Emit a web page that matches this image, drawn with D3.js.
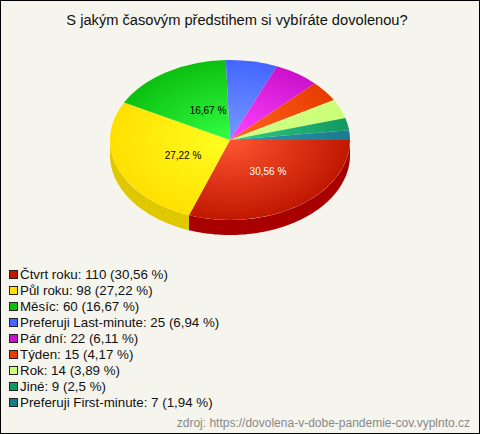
<!DOCTYPE html>
<html>
<head>
<meta charset="utf-8">
<script src="https://cdn.jsdelivr.net/npm/d3@7/dist/d3.min.js"></script>
<style>html,body{margin:0;padding:0;background:#f5f5ee}svg{display:block}text{font-family:"Liberation Sans",Arial,sans-serif}</style>
</head>
<body>
<script>
const chartTitle = "S jakým časovým předstihem si vybíráte dovolenou?";
const sourceNote = "zdroj: https://dovolena-v-dobe-pandemie-cov.vyplnto.cz";
const categories = ["Čtvrt roku","Půl roku","Měsíc","Preferuji Last-minute","Pár dní","Týden","Rok","Jiné","Preferuji First-minute"];
const counts = [110,98,60,25,22,15,14,9,7];
const percents = ["30,56","27,22","16,67","6,94","6,11","4,17","3,89","2,5","1,94"];
const rimColors = ["#c01800","#ffe000","#0cc010","#4466ff","#cc11cc","#e83c00","#ccff77","#109960","#1a7a90"];
const hubColors = ["#ff5533","#ffff22","#33ff44","#7799ff","#ff44ff","#ff6622","#ccff88","#33cc88","#3399aa"];
const sideColors = ["#a80000","#e0c800"];
const labelled = [0,1,2];
const labelColors = ["#ffffff","#000000","#000000"];
const labelNudge = [[7,2.5],[3.4,3],[6.6,1.5]];

const W=480,H=434,cx=230,cy=140,rx=120,ry=80,depth=15;
const svg=d3.select("body").append("svg").attr("width",W).attr("height",H);
svg.append("rect").attr("x",0.5).attr("y",0.5).attr("width",W-1).attr("height",H-1).attr("fill","#f5f5ee").attr("stroke","#000");

const defs=svg.append("defs");
categories.forEach((c,i)=>{
  const g=defs.append("radialGradient").attr("id","g"+i).attr("gradientUnits","userSpaceOnUse")
    .attr("cx",0).attr("cy",0).attr("r",rx);
  g.append("stop").attr("offset","0%").attr("stop-color",hubColors[i]);
  g.append("stop").attr("offset","100%").attr("stop-color",rimColors[i]);
});

const pieData=d3.pie().sort(null).startAngle(Math.PI/2).endAngle(Math.PI/2+2*Math.PI)(counts);
const arc=d3.arc().innerRadius(0).outerRadius(rx);

// side wall
const wall=svg.append("g").attr("transform",`translate(${cx},${cy})`);
const line=d3.line();
pieData.forEach((p,i)=>{
  const a0=p.startAngle-Math.PI/2, a1=Math.min(p.endAngle-Math.PI/2,Math.PI);
  if(a0>=Math.PI) return;
  const n=Math.max(2,Math.ceil((a1-a0)*40));
  const as=d3.range(n+1).map(k=>a0+(a1-a0)*k/n);
  const pts=as.map(a=>[rx*Math.cos(a),ry*Math.sin(a)]).concat(as.slice().reverse().map(a=>[rx*Math.cos(a),ry*Math.sin(a)+depth]));
  wall.append("path").attr("d",line(pts)+"Z").attr("fill",sideColors[i]);
});

// top face
const face=svg.append("g").attr("transform",`translate(${cx},${cy}) scale(1,${ry/rx})`);
face.selectAll("path").data(pieData).join("path").attr("d",arc).attr("fill",(d,i)=>`url(#g${i})`);

// slice labels
labelled.forEach((i,k)=>{
  const m=(pieData[i].startAngle+pieData[i].endAngle)/2-Math.PI/2;
  svg.append("text").attr("x",cx+0.45*rx*Math.cos(m)+labelNudge[k][0]).attr("y",cy+0.45*ry*Math.sin(m)+labelNudge[k][1]+3.5)
    .attr("text-anchor","middle").attr("font-size",10).attr("fill",labelColors[k]).text(percents[i]+" %");
});

svg.append("text").attr("x",237).attr("y",25).attr("text-anchor","middle").attr("font-size",14.67).attr("fill","#111").text(chartTitle);

const row=d3.scaleBand().domain(d3.range(categories.length)).range([266,410]);
categories.forEach((c,i)=>{
  const y=row(i);
  svg.append("rect").attr("x",9.5).attr("y",y+4.5).attr("width",8).attr("height",8).attr("fill",rimColors[i]).attr("stroke","#222");
  svg.append("text").attr("x",20).attr("y",y+13).attr("font-size",13.33).attr("fill","#111").text(`${c}: ${counts[i]} (${percents[i]} %)`);
});
svg.append("text").attr("x",470).attr("y",427).attr("text-anchor","end").attr("font-size",12).attr("fill","#888").text(sourceNote);
</script>
</body>
</html>
